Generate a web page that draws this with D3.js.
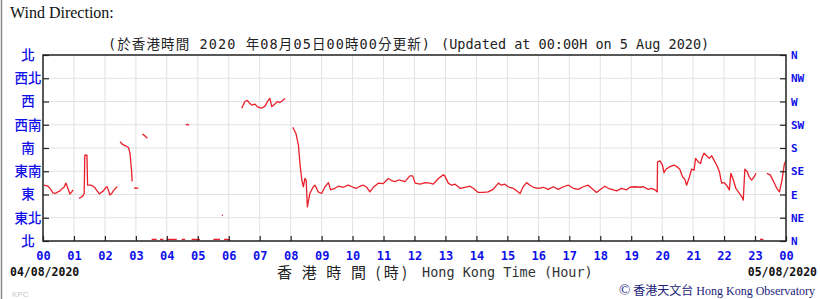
<!DOCTYPE html>
<html>
<head>
<meta charset="utf-8">
<script src="https://cdn.jsdelivr.net/npm/d3@7"></script>
<style>
  body { margin: 0; background: #fff; }
  svg { display: block; }
</style>
</head>
<body>
<div class="canvas"></div>
<script>
// hour of day (0-24) and wind direction in degrees; null = no data
const hours = [
  0.03, 0.16, 0.25, 0.32, 0.40, 0.48, 0.55, 0.61, 0.68, 0.74, 0.81, 0.87, 0.93, 0.97, 1.05,
  1.16, 1.22, 1.28, 1.33, 1.35, 1.42, 1.44, 1.55, 1.62, 1.68, 1.75, 1.82, 1.88, 1.95, 2.02, 2.07, 2.12, 2.16, 2.22, 2.27, 2.34, 2.40, 2.45,
  2.49, 2.55, 2.60, 2.70, 2.76, 2.81, 2.84, 2.86, 2.88, 2.91,
  2.94, 3.00, 3.08, 3.15,
  3.21, 3.28, 3.37, 3.45,
  3.51, 3.67, 3.72, 3.78, 3.89, 3.94, 3.99, 4.32, 4.40, 4.48, 4.59, 4.60,
  4.61, 4.66, 4.72, 4.76,
  4.80, 5.07, 5.30, 5.50, 5.72, 5.76,
  5.78, 5.81, 5.815, 5.85, 6.04, 6.20,
  6.42, 6.52, 6.60, 6.67, 6.74, 6.85, 6.92, 7.00, 7.06, 7.17, 7.28, 7.33, 7.39, 7.49, 7.57, 7.65, 7.76, 7.82, 7.95,
  8.07, 8.17, 8.25, 8.30, 8.36, 8.41, 8.46, 8.50, 8.54, 8.62, 8.73, 8.79, 8.89, 9.00, 9.11, 9.22, 9.29, 9.43, 9.54, 9.70,
  9.86, 10.02, 10.13, 10.24, 10.35, 10.46, 10.56, 10.67, 10.83, 10.99, 11.15, 11.26, 11.37, 11.48,
  11.53, 11.69, 11.85, 11.94, 12.02, 12.18, 12.34, 12.50, 12.61, 12.77, 12.93, 12.98, 13.09, 13.20, 13.31, 13.47, 13.63, 13.79, 13.90,
  14.06, 14.22, 14.38, 14.54, 14.71, 14.81, 14.92, 15.02, 15.19, 15.35, 15.41, 15.51, 15.62, 15.73, 15.84, 16.00, 16.16, 16.32,
  16.48, 16.64, 16.81, 16.97, 17.13, 17.29, 17.45, 17.61, 17.72, 17.88, 17.99, 18.15, 18.26, 18.42, 18.53, 18.69, 18.85,
  18.96, 19.12, 19.28, 19.39, 19.55, 19.66, 19.77, 19.84, 19.85, 19.93, 20.01, 20.06, 20.12, 20.25, 20.38, 20.47, 20.57, 20.66,
  20.73, 20.79, 20.88, 20.95, 21.03, 21.08, 21.17, 21.24, 21.28, 21.35, 21.44, 21.52, 21.60, 21.67, 21.76, 21.85, 21.92, 22.00,
  22.08, 22.17, 22.22, 22.30, 22.38, 22.46, 22.57, 22.62, 22.67, 22.75, 22.81, 22.89, 22.97, 23.03, 23.10,
  23.16, 23.27, 23.32,
  23.38, 23.49, 23.60, 23.70, 23.79, 23.87, 23.95, 24.00
];
const degrees = [
  108, 106, 100, 93, 92, 95, 97, 101, 104, 112, 101, 91, 95, 99, null,
  83, 84, 87, 92, 166, 166, 108, 108, 106, 103, 97, 91, 94, 97, 103, 105, 97, 89, 92, 97, 102, 105, null,
  192, 188, 186, 183, 181, 170, 150, 137, 115, null,
  102, 103, 102, null,
  207, 204, 199, null,
  3, 3, null, 3, 3, null, 3, 3, null, 3, 3, null,
  224, 226, 224, null,
  3, 3, null, 3, 3, null,
  50, 49, null, 3, 3, null,
  257, 270, 272, 267, 263, 265, 260, 258, 257, 261, 273, 276, 260, 265, 270, 268, 273, 276, null,
  220, 208, 186, 150, 118, 105, 121, 118, 66, 92, 105, 108, 95, 92, 105, 113, 99, 102, 106, 104,
  108, 104, 102, 106, 108, 104, 95, 104, 112, 111, 121, 117, 115, 118,
  118, 115, 126, 126, 112, 110, 113, 112, 110, 121, 128, 126, 112, 108, 110, 102, 104, 106, 102,
  94, 94, 95, 100, 112, 108, 110, 105, 102, 95, 92, 105, 113, 108, 104, 102, 104, 100,
  105, 100, 105, 108, 102, 100, 105, 108, 102, 94, 99, 106, 102, 99, 97, 102, 99,
  104, 105, 104, 105, 100, 102, 99, 95, 153, 155, 147, 132, 139, 144, 147, 144, 139, 124,
  120, 108, 124, 139, 137, 160, 153, 150, 160, 170, 165, 160, 165, 157, 147, 134, 112, 113,
  108, 99, 131, 118, 102, 95, 86, 79, 139, 134, 124, 118, 124, 131, null,
  3, 3, null,
  131, 128, 115, 102, 95, 118, 150, 155
];

const dirTicks = [0, 45, 90, 135, 180, 225, 270, 315, 360];
const leftLabels = ['北', '東北', '東', '東南', '南', '西南', '西', '西北', '北'];
const rightLabels = ['N', 'NE', 'E', 'SE', 'S', 'SW', 'W', 'NW', 'N'];
const hourLabels = ['00', '01', '02', '03', '04', '05', '06', '07', '08', '09', '10', '11',
  '12', '13', '14', '15', '16', '17', '18', '19', '20', '21', '22', '23', '00'];

const W = 820, H = 299;
const margin = { top: 55, right: 34, bottom: 58, left: 43 };
const graphWidth = W - margin.left - margin.right;
const graphHeight = H - margin.top - margin.bottom;
const blue = '#1010e8';

const svg = d3.select('.canvas')
  .append('svg')
  .attr('width', W)
  .attr('height', H);

// left page border
svg.append('line')
  .attr('x1', 1.5).attr('x2', 1.5).attr('y1', 0).attr('y2', H)
  .attr('stroke', '#8a8a8a').attr('stroke-width', 1.5);

svg.append('text')
  .attr('x', 10).attr('y', 18)
  .attr('font-family', 'Liberation Serif, serif')
  .attr('font-size', 16)
  .attr('fill', '#111')
  .text('Wind Direction:');

svg.append('text')
  .attr('x', 108).attr('y', 49)
  .attr('font-family', 'DejaVu Sans Mono, Noto Sans CJK TC, monospace')
  .attr('font-size', 13.5)
  .attr('fill', '#222')
  .attr('textLength', 322)
  .attr('lengthAdjust', 'spacing')
  .text('(於香港時間 2020 年08月05日00時00分更新)');

svg.append('text')
  .attr('x', 441).attr('y', 49)
  .attr('font-family', 'DejaVu Sans Mono, monospace')
  .attr('font-size', 13.5)
  .attr('fill', '#222')
  .text('(Updated at 00:00H on 5 Aug 2020)');

const graph = svg.append('g')
  .attr('transform', `translate(${margin.left}, ${margin.top})`);

const x = d3.scaleLinear().domain([0, 24]).range([0, graphWidth]);
const y = d3.scaleLinear().domain([0, 360]).range([graphHeight, 0]);

// grid
graph.append('g')
  .selectAll('line')
  .data(d3.range(1, 24))
  .enter().append('line')
  .attr('x1', d => x(d)).attr('x2', d => x(d))
  .attr('y1', 0).attr('y2', graphHeight)
  .attr('stroke', '#e2e2e2');

graph.append('g')
  .selectAll('line')
  .data(dirTicks.slice(1, -1))
  .enter().append('line')
  .attr('x1', 0).attr('x2', graphWidth)
  .attr('y1', d => y(d)).attr('y2', d => y(d))
  .attr('stroke', '#e2e2e2');

// data line
const points = hours.map((h, i) => ({ h, d: degrees[i] }));
const line = d3.line()
  .defined(p => p.d !== null)
  .x(p => x(p.h))
  .y(p => y(p.d));

graph.append('path')
  .datum(points)
  .attr('d', line)
  .attr('fill', 'none')
  .attr('stroke', '#e8202a')
  .attr('stroke-width', 1.3)
  .attr('stroke-linejoin', 'round');

// axes
const xAxis = d3.axisBottom(x)
  .tickValues(d3.range(25))
  .tickFormat(i => hourLabels[i])
  .tickSizeInner(-5)
  .tickSizeOuter(0)
  .tickPadding(10);

const yLeft = d3.axisLeft(y)
  .tickValues(dirTicks)
  .tickFormat((d, i) => leftLabels[i])
  .tickSizeInner(-6)
  .tickSizeOuter(0)
  .tickPadding(15);

const yRight = d3.axisRight(y)
  .tickValues(dirTicks)
  .tickFormat((d, i) => rightLabels[i])
  .tickSizeInner(-6)
  .tickSizeOuter(0)
  .tickPadding(5);

const xAxisGroup = graph.append('g')
  .attr('transform', `translate(0, ${graphHeight})`)
  .call(xAxis);
const yLeftGroup = graph.append('g').call(yLeft);
const yRightGroup = graph.append('g')
  .attr('transform', `translate(${graphWidth}, 0)`)
  .call(yRight);

[xAxisGroup, yLeftGroup, yRightGroup].forEach(g => {
  g.select('.domain').remove();
  g.selectAll('.tick line').attr('stroke', '#222').attr('stroke-width', 1.2);
});

xAxisGroup.selectAll('text')
  .attr('font-family', 'DejaVu Sans Mono, monospace')
  .attr('font-weight', 'bold')
  .attr('font-size', 12)
  .attr('fill', blue);

yLeftGroup.selectAll('text')
  .attr('text-anchor', 'middle')
  .attr('x', -15)
  .attr('font-family', 'Noto Sans CJK TC, sans-serif')
  .attr('font-weight', 500)
  .attr('font-size', 13.5)
  .attr('fill', blue);

yRightGroup.selectAll('text')
  .attr('font-family', 'DejaVu Sans Mono, monospace')
  .attr('font-weight', 'bold')
  .attr('font-size', 11)
  .attr('fill', blue);

// frame
graph.append('rect')
  .attr('width', graphWidth)
  .attr('height', graphHeight)
  .attr('fill', 'none')
  .attr('stroke', '#222')
  .attr('stroke-width', 1.5);

// footer texts
svg.append('text')
  .attr('x', 10).attr('y', 276)
  .attr('font-family', 'DejaVu Sans Mono, monospace')
  .attr('font-weight', 'bold')
  .attr('font-size', 11.5)
  .attr('fill', '#111')
  .text('04/08/2020');

svg.append('text')
  .attr('x', 817).attr('y', 276)
  .attr('text-anchor', 'end')
  .attr('font-family', 'DejaVu Sans Mono, monospace')
  .attr('font-weight', 'bold')
  .attr('font-size', 11.5)
  .attr('fill', '#111')
  .text('05/08/2020');

svg.append('text')
  .attr('x', 277).attr('y', 278)
  .attr('font-family', 'Noto Sans CJK TC, sans-serif')
  .attr('font-size', 15)
  .attr('fill', '#222')
  .attr('textLength', 130)
  .attr('lengthAdjust', 'spacing')
  .text('香 港 時 間 (時)');

svg.append('text')
  .attr('x', 422).attr('y', 277)
  .attr('font-family', 'DejaVu Sans Mono, monospace')
  .attr('font-size', 13.5)
  .attr('fill', '#333')
  .text('Hong Kong Time (Hour)');

svg.append('text')
  .attr('x', 12).attr('y', 297)
  .attr('font-family', 'Liberation Sans, sans-serif')
  .attr('font-size', 8)
  .attr('fill', '#c8c8c8')
  .text('KPC');

const copy = svg.append('text')
  .attr('x', 815).attr('y', 295)
  .attr('text-anchor', 'end')
  .attr('font-family', 'Liberation Serif, Noto Sans CJK TC, serif')
  .attr('font-size', 12)
  .attr('fill', '#22227a');
copy.append('tspan').attr('font-size', 15).text('©');
copy.append('tspan').text(' 香港天文台 Hong Kong Observatory');
</script>
</body>
</html>
